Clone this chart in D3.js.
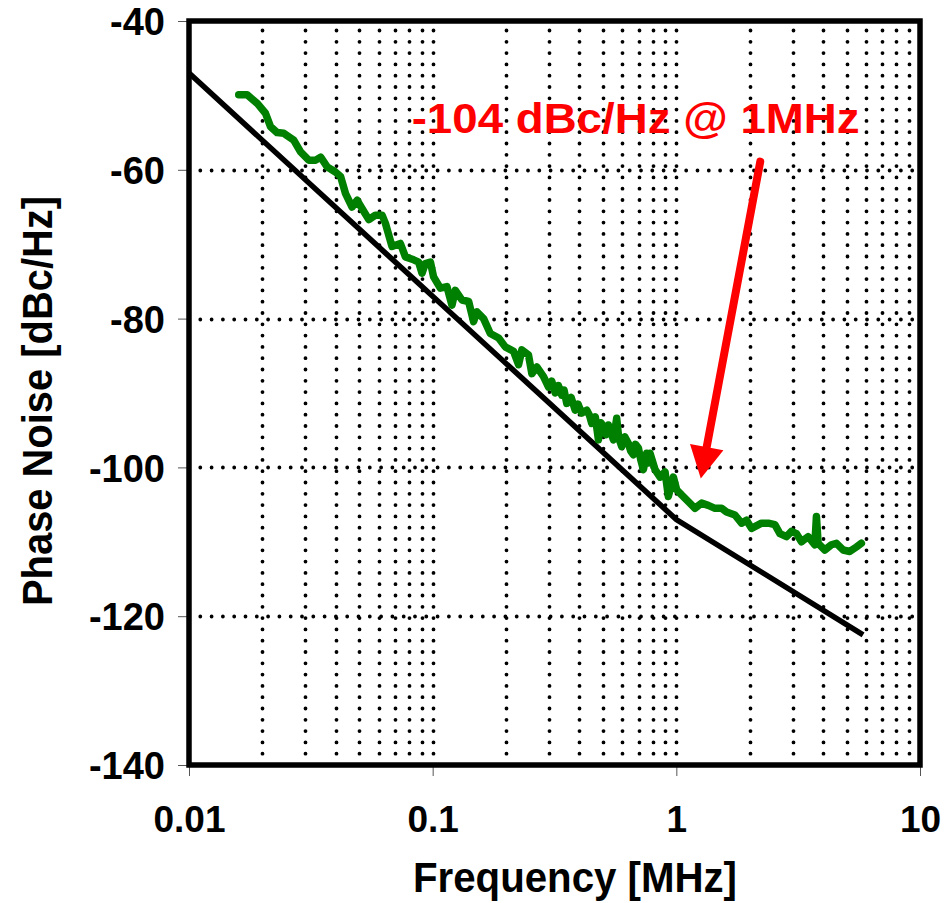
<!DOCTYPE html>
<html>
<head>
<meta charset="utf-8">
<script src="https://cdn.jsdelivr.net/npm/d3@7"></script>
<style>
  html, body { margin: 0; padding: 0; background: #fff; }
  svg { display: block; }
  text { font-family: "Liberation Sans", Arial, sans-serif; font-weight: bold; }
</style>
</head>
<body>
<svg id="chart" width="947" height="903"></svg>
<script>
// ---------- data ----------
const xTicks = [0.01, 0.1, 1, 10];
const xTickLabels = ["0.01", "0.1", "1", "10"];
const yTicks = [-40, -60, -80, -100, -120, -140];
const yTickLabels = ["-40", "-60", "-80", "-100", "-120", "-140"];
const yGrid = [-60, -80, -100, -120];

const xTitle = "Frequency [MHz]";
const yTitle = "Phase Noise [dBc/Hz]";
const annText = "-104 dBc/Hz @ 1MHz";
// annotation anchor (MHz, dBc/Hz) and arrow tail/tip
const annPos = [0.082, -55.0];
const arrowTail = [2.21, -58.9];
const arrowTip = [1.26, -101.5];

// black (model) curve
const blackFreq = [0.01, 1, 5.84];
const blackDb = [-47, -107, -122.5];

// green (measured) curve
const greenFreq = [0.0160,0.0173,0.0191,0.0206,0.0216,0.0230,0.0245,0.0269,0.0287,0.0310,0.0331,0.0347,0.0369,0.0399,0.0419,0.0439,0.0467,0.0490,0.0513,0.0547,0.0582,0.0620,0.0640,0.0681,0.0737,0.0773,0.0836,0.0876,0.0904,0.0933,0.0979,
0.1009,0.1075,0.1144,0.1200,0.1239,0.1319,0.1405,0.1472,0.1519,0.1618,0.1724,0.1865,0.1986,0.2148,0.2252,0.2323,0.2474,0.2553,0.2676,0.2851,
0.2989,0.3080,0.3184,0.3280,0.3388,0.3460,0.3551,0.3700,0.3844,0.3950,0.4092,0.4290,0.4400,0.4497,0.4650,0.4789,0.4900,0.5021,0.5150,0.5263,0.5400,0.5518,0.5692,0.5800,0.5967,0.6150,0.6359,0.6500,0.6666,0.6800,0.6988,0.7150,0.7325,0.7557,0.7680,
0.7802,0.8179,0.8574,0.8987,0.9274,0.9721,1.003,1.051,1.120,1.193,1.270,1.352,1.441,1.534,1.607,1.740,1.852,1.941,2.035,2.237,2.382,2.538,2.661,2.831,2.968,3.112,3.262,3.475,3.702,3.758,3.819,4.068,4.330,4.540,4.834,5.151,5.482,5.747];
const greenDb = [-49.9,-49.9,-51.1,-52.4,-54.2,-55.0,-55.1,-56.0,-57.6,-58.7,-58.7,-58.3,-59.6,-60.3,-60.9,-63.2,-65.0,-64.1,-65.2,-66.7,-66.1,-66.1,-67.2,-70.3,-69.9,-71.7,-72.1,-72.4,-73.9,-72.6,-72.4,
-74.4,-75.9,-75.7,-78.2,-76.2,-77.5,-77.7,-80.4,-79.1,-80.0,-82.0,-82.6,-83.8,-84.4,-86.2,-84.2,-84.9,-87.4,-86.5,-87.8,
-89.2,-88.4,-90.0,-89.0,-90.3,-89.6,-91.4,-90.6,-92.3,-91.5,-92.7,-92.3,-93.0,-94.1,-93.2,-96.3,-94.0,-94.5,-95.6,-94.3,-95.4,-96.3,-93.4,-96.0,-97.2,-95.9,-96.8,-97.8,-98.3,-96.9,-97.4,-99.0,-100.3,-98.1,-99.4,
-98.1,-100.3,-101.3,-100.6,-103.9,-101.3,-103.0,-103.7,-104.6,-105.5,-104.8,-105.1,-105.5,-105.5,-106.0,-106.4,-107.5,-107.1,-108.2,-107.5,-107.5,-107.7,-108.9,-109.3,-108.6,-108.9,-110.0,-109.3,-110.4,-106.6,-110.2,-111.1,-110.4,-110.2,-111.1,-111.3,-110.7,-110.2];

// ---------- layout ----------
const L = 189, R = 920, T = 21, B = 765;
const svg = d3.select("#chart");
svg.append("rect").attr("width", 947).attr("height", 903).attr("fill", "#fff");

const x = d3.scaleLog().domain([0.01, 10]).range([L, R]);
const y = d3.scaleLinear().domain([-140, -40]).range([B, T]);

// ---------- grid ----------
const minor = [];
[0.01, 0.1, 1].forEach(d => { for (let k = 2; k <= 9; k++) minor.push(d * k); });
minor.push(0.1, 1);
const grid = svg.append("g")
  .attr("stroke", "#000").attr("stroke-width", 3.8)
  .attr("stroke-linecap", "round").attr("stroke-dasharray", "0 11.3");
grid.selectAll("line.v").data(minor).join("line").attr("class", "v")
  .attr("x1", d => Math.round(x(d)) + 0.5).attr("x2", d => Math.round(x(d)) + 0.5)
  .attr("y1", B).attr("y2", T + 6);
grid.selectAll("line.h").data(yGrid).join("line").attr("class", "h")
  .attr("x1", L).attr("x2", R - 3)
  .attr("y1", d => Math.round(y(d)) + 0.5).attr("y2", d => Math.round(y(d)) + 0.5);

// ---------- axes ----------
const yAxis = svg.append("g").attr("transform", `translate(${L},0)`)
  .call(d3.axisLeft(y).tickValues(yTicks).tickSize(11).tickFormat((d, i) => yTickLabels[i]));
yAxis.select(".domain").remove();
yAxis.selectAll(".tick line").attr("stroke", "#555").attr("stroke-width", 1);
yAxis.selectAll(".tick text").attr("font-size", 38).attr("x", -24).attr("dy", "0.36em")
  .attr("fill", "#000");

const xAxis = svg.append("g").attr("transform", `translate(0,${B})`)
  .call(d3.axisBottom(x).tickValues(xTicks).tickSize(11).tickFormat((d, i) => xTickLabels[i]));
xAxis.select(".domain").remove();
xAxis.selectAll(".tick line").attr("stroke", "#555").attr("stroke-width", 1);
xAxis.selectAll(".tick text").attr("font-size", 37).attr("y", 67).attr("dy", 0)
  .attr("fill", "#000");

// ---------- curves ----------
const line = d3.line().x(d => x(d[0])).y(d => y(d[1]));
svg.append("path")
  .attr("d", line(blackFreq.map((f, i) => [f, blackDb[i]])))
  .attr("fill", "none").attr("stroke", "#000").attr("stroke-width", 5.5);
svg.append("path")
  .attr("d", line(greenFreq.map((f, i) => [f, greenDb[i]])))
  .attr("fill", "none").attr("stroke", "#008000").attr("stroke-width", 7.5)
  .attr("stroke-linejoin", "round").attr("stroke-linecap", "round");

// ---------- frame ----------
svg.append("rect").attr("x", L).attr("y", T).attr("width", R - L).attr("height", B - T)
  .attr("fill", "none").attr("stroke", "#000").attr("stroke-width", 5.5);

// ---------- annotation ----------
svg.append("text").attr("x", x(annPos[0])).attr("y", y(annPos[1]))
  .attr("font-size", 43).attr("fill", "#ff0000")
  .attr("textLength", 448).attr("lengthAdjust", "spacingAndGlyphs")
  .text(annText);

const sx = x(arrowTail[0]), sy = y(arrowTail[1]);
const tx = x(arrowTip[0]), ty = y(arrowTip[1]);
const len = Math.hypot(tx - sx, ty - sy);
const ux = (tx - sx) / len, uy = (ty - sy) / len;
const headL = 32, headW = 17;
const bx = tx - ux * headL, by = ty - uy * headL;
svg.append("line").attr("x1", sx).attr("y1", sy).attr("x2", bx + ux * 2).attr("y2", by + uy * 2)
  .attr("stroke", "#ff0000").attr("stroke-width", 8).attr("stroke-linecap", "round");
svg.append("polygon")
  .attr("points", [[tx, ty], [bx - uy * headW, by + ux * headW], [bx + uy * headW, by - ux * headW]]
    .map(p => p.join(",")).join(" "))
  .attr("fill", "#ff0000");

// ---------- titles ----------
svg.append("text").attr("x", 575).attr("y", 892).attr("text-anchor", "middle")
  .attr("font-size", 42).attr("textLength", 324).attr("lengthAdjust", "spacingAndGlyphs")
  .text(xTitle);
svg.append("text").attr("transform", "translate(52,401) rotate(-90)")
  .attr("text-anchor", "middle").attr("font-size", 42)
  .attr("textLength", 410).attr("lengthAdjust", "spacingAndGlyphs")
  .text(yTitle);
</script>
</body>
</html>
